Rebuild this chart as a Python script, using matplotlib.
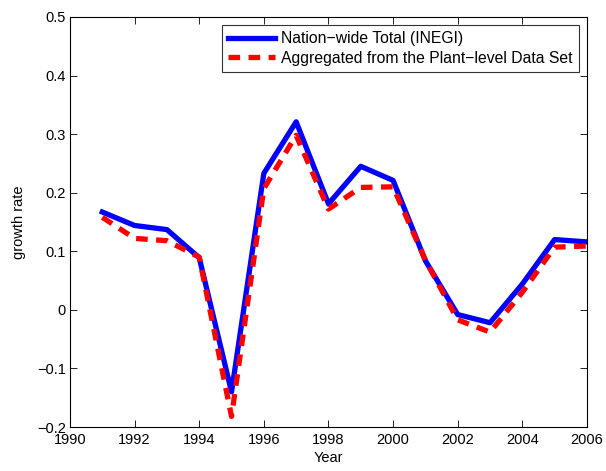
import matplotlib
matplotlib.use("Agg")
import matplotlib.pyplot as plt

years = [1991, 1992, 1993, 1994, 1995, 1996, 1997, 1998, 1999, 2000, 2001, 2002, 2003, 2004, 2005, 2006]
inegi = [0.167, 0.144, 0.137, 0.089, -0.14, 0.233, 0.321, 0.181, 0.245, 0.221, 0.084, -0.008, -0.022, 0.044, 0.120, 0.116]
plant = [0.158, 0.122, 0.118, 0.090, -0.182, 0.207, 0.298, 0.172, 0.209, 0.210, 0.085, -0.017, -0.038, 0.030, 0.107, 0.109]
xticks = [1990, 1992, 1994, 1996, 1998, 2000, 2002, 2004, 2006]
yticks = [-0.2, -0.1, 0, 0.1, 0.2, 0.3, 0.4, 0.5]

plt.rcParams['font.family'] = ['Liberation Sans', 'DejaVu Sans']
fig = plt.figure(figsize=(6.06, 4.71), dpi=100)
ax = fig.add_axes([0.1155, 0.0934, 0.853, 0.8706])
ax.plot(years, inegi, color='#0000ff', lw=3.8, label='Nation\u2212wide Total (INEGI)')
ax.plot(years, plant, color='#ff0000', lw=3.8, ls=(0, (2.2, 1.6)), label='Aggregated from the Plant\u2212level Data Set')
ax.set_xlim(1990, 2006)
ax.set_ylim(-0.2, 0.5)
ax.set_xticks(xticks)
ax.set_yticks(yticks)
ax.set_yticklabels(['\u22120.2', '\u22120.1', '0', '0.1', '0.2', '0.3', '0.4', '0.5'])
ax.tick_params(direction='in', top=True, right=True, labelsize=10.5, length=5, width=0.6, pad=3)
ax.tick_params(axis='x', pad=4.5)
for s in ax.spines.values():
    s.set_linewidth(0.8)
ax.set_xlabel('Year', fontsize=10.5, labelpad=3)
ax.set_ylabel('growth rate', fontsize=10.5, labelpad=8)
leg = ax.legend(loc='upper right', fontsize=11.3, frameon=True, fancybox=False, edgecolor='black',
                handlelength=3.0, borderaxespad=0.5, borderpad=0.4, labelspacing=0.3, handletextpad=0.4,
                handleheight=0.7)
leg.get_frame().set_linewidth(0.8)
fig.savefig('out.png', dpi=100)
